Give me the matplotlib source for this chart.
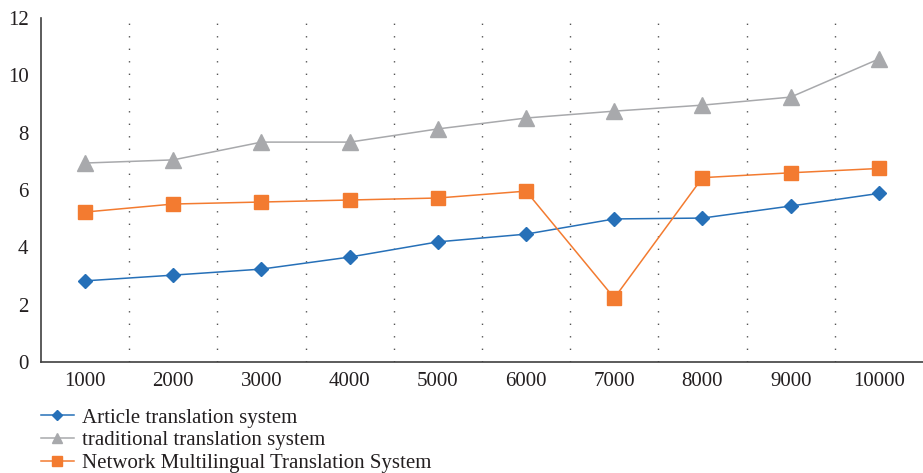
import matplotlib.pyplot as plt
import numpy as np

sizes = ["1000", "2000", "3000", "4000", "5000", "6000", "7000", "8000", "9000", "10000"]
article = [2.83, 3.03, 3.24, 3.66, 4.19, 4.46, 4.99, 5.02, 5.44, 5.88]
traditional = [6.94, 7.05, 7.67, 7.67, 8.13, 8.51, 8.75, 8.96, 9.24, 10.57]
network = [5.23, 5.51, 5.58, 5.65, 5.72, 5.96, 2.23, 6.43, 6.60, 6.75]

plt.rcParams['font.family'] = ['Liberation Serif', 'DejaVu Serif']
plt.rcParams['font.size'] = 15
txt = '#231f20'

fig = plt.figure(figsize=(9.23, 4.73), dpi=100)
ax = fig.add_axes([0.0444, 0.2347, 0.9556, 0.7273])

x = np.arange(len(sizes))
ax.plot(x, article, color='#2670b8', lw=1.1, marker='D', ms=6.8,
        label='Article translation system')
ax.plot(x, traditional, color='#a8a9ac', lw=1.1, marker='^', ms=11,
        label='traditional translation system')
ax.plot(x, network, color='#f37b30', lw=1.1, marker='s', ms=10.5,
        label='Network Multilingual Translation System')

ax.set_xlim(-0.5, len(sizes) - 0.5)
ax.set_ylim(0, 12)
ax.set_yticks(range(0, 13, 2))
ax.set_xticks(x)
ax.set_xticklabels(sizes)
ax.set_xticks(x[:-1] + 0.5, minor=True)
ax.grid(which='minor', axis='x', color='#555555', lw=1.0, linestyle=(0, (1, 8)))
ax.tick_params(which='both', length=0, colors=txt, labelsize=15)
ax.tick_params(axis='x', pad=7)
ax.tick_params(axis='y', pad=9)

for s in ['top', 'right']:
    ax.spines[s].set_visible(False)
for s in ['left', 'bottom']:
    ax.spines[s].set_color('#404040')
    ax.spines[s].set_linewidth(1.2)

fig.legend(loc='upper left', bbox_to_anchor=(0.044, 0.137), frameon=False,
           handlelength=1.6, handletextpad=0.4, labelspacing=0.15,
           markerscale=0.7, borderaxespad=0, borderpad=0, labelcolor=txt)

fig.savefig('out.png', dpi=100)
